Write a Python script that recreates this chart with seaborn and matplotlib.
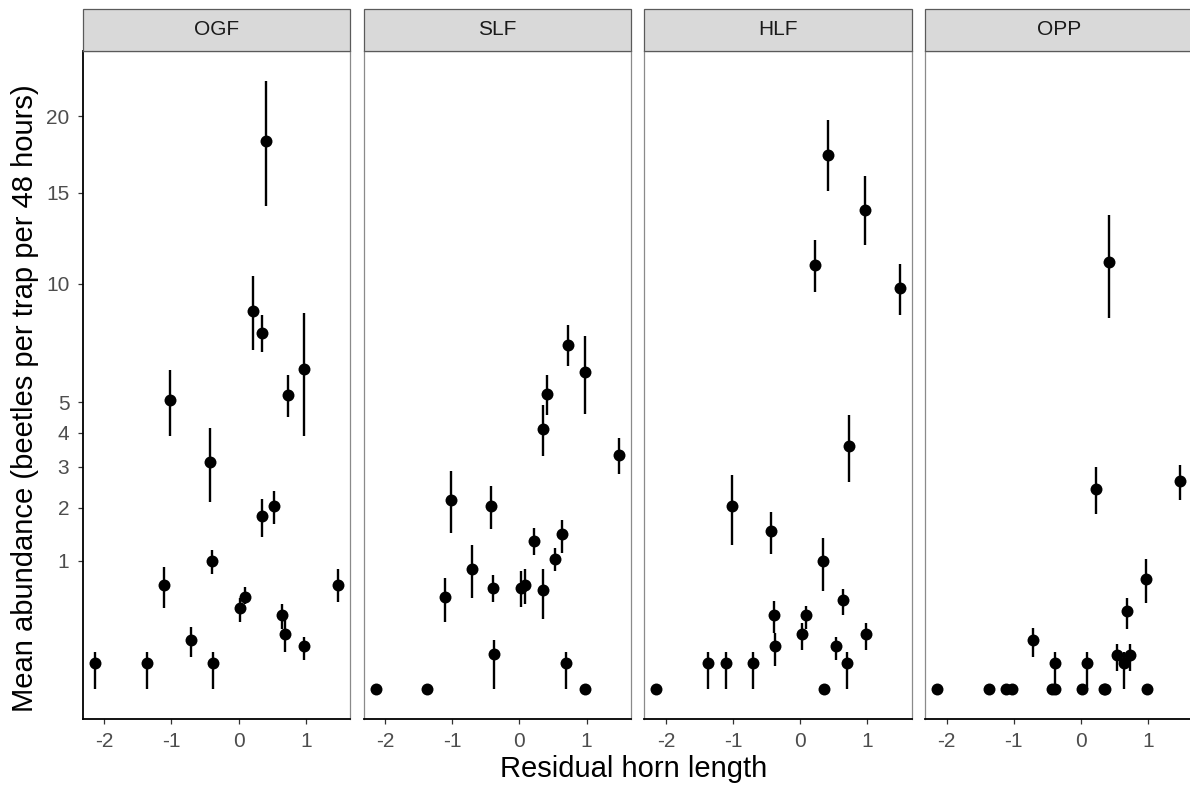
import numpy as np
import pandas as pd
import matplotlib
matplotlib.use("Agg")
import matplotlib.pyplot as plt
import seaborn as sns
from matplotlib.patches import Rectangle

# ---------------- data ----------------
habitats = ["OGF", "SLF", "HLF", "OPP"]

horn = [-2.14, -1.37, -1.11, -1.02, -0.71, -0.43, -0.39, -0.38, 0.02, 0.09, 0.22,
        0.345, 0.355, 0.415, 0.53, 0.64, 0.69, 0.73, 0.97, 0.98, 1.48]

ogf_mean = [0.04, 0.04, 0.66, 5.07, 0.145, 3.14, 1.00, 0.04, 0.40, 0.51, 8.70,
            7.70, 1.81, 18.3, 2.03, 0.33, 0.18, 5.27, 6.24, 0.11, 0.66]
ogf_lo = [0.0, 0.0, 0.40, 3.90, 0.06, 2.12, 0.80, 0.0, 0.27, 0.44, 7.00,
          6.90, 1.41, 14.2, 1.66, 0.22, 0.08, 4.50, 3.90, 0.05, 0.46]
ogf_hi = [0.08, 0.08, 0.91, 6.20, 0.23, 4.14, 1.17, 0.08, 0.50, 0.63, 10.4,
          8.50, 2.19, 22.5, 2.38, 0.44, 0.29, 6.00, 8.60, 0.16, 0.87]

slf_mean = [0.0, 0.0, 0.51, 2.17, 0.88, 2.03, 0.62, 0.073, 0.62, 0.66, 1.33,
            4.10, 0.59, 5.28, 1.03, 1.45, 0.04, 7.20, 6.13, 0.0, 3.33]
slf_lo = [0.0, 0.0, 0.27, 1.47, 0.50, 1.55, 0.46, 0.0, 0.41, 0.44, 1.09,
          3.30, 0.30, 4.56, 0.84, 1.12, 0.0, 6.35, 4.60, 0.0, 2.81]
slf_hi = [0.0, 0.0, 0.75, 2.89, 1.26, 2.50, 0.79, 0.145, 0.84, 0.88, 1.57,
          4.90, 0.88, 5.99, 1.21, 1.73, 0.08, 8.05, 7.60, 0.0, 3.83]

hlf_mean = [0.0, 0.04, 0.04, 2.03, 0.04, 1.51, 0.33, 0.11, 0.18, 0.33, 10.95,
            1.00, 0.0, 17.4, 0.11, 0.48, 0.04, 3.60, 14.0, 0.18, 9.80]
hlf_lo = [0.0, 0.0, 0.0, 1.26, 0.0, 1.10, 0.19, 0.03, 0.09, 0.22, 9.60,
          0.58, 0.0, 15.1, 0.05, 0.33, 0.0, 2.60, 12.0, 0.09, 8.50]
hlf_hi = [0.0, 0.08, 0.08, 2.78, 0.08, 1.91, 0.47, 0.19, 0.26, 0.42, 12.3,
          1.39, 0.0, 19.7, 0.16, 0.61, 0.08, 4.56, 16.0, 0.26, 11.0]

opp_mean = [0.0, 0.0, 0.0, 0.0, 0.145, 0.0, 0.04, 0.0, 0.0, 0.04, 2.43,
            0.0, 0.0, 11.1, 0.07, 0.04, 0.37, 0.07, 0.73, 0.0, 2.62]
opp_lo = [0.0, 0.0, 0.0, 0.0, 0.06, 0.0, 0.0, 0.0, 0.0, 0.0, 1.86,
          0.0, 0.0, 8.40, 0.02, 0.0, 0.22, 0.02, 0.45, 0.0, 2.17]
opp_hi = [0.0, 0.0, 0.0, 0.0, 0.225, 0.0, 0.08, 0.0, 0.0, 0.08, 3.01,
          0.0, 0.0, 13.7, 0.12, 0.08, 0.50, 0.12, 1.02, 0.0, 3.05]

y_ticks = [1, 2, 3, 4, 5, 10, 15, 20]
x_ticks = [-2, -1, 0, 1]

series = {
    "OGF": (ogf_mean, ogf_lo, ogf_hi),
    "SLF": (slf_mean, slf_lo, slf_hi),
    "HLF": (hlf_mean, hlf_lo, hlf_hi),
    "OPP": (opp_mean, opp_lo, opp_hi),
}
rows = []
for hab in habitats:
    m, lo, hi = series[hab]
    for x, a, b, c in zip(horn, m, lo, hi):
        rows.append({"habitat": hab, "horn": x, "mean": a, "lo": b, "hi": c})
df = pd.DataFrame(rows)

# ---------------- style ----------------
sns.set_theme(style="white")
plt.rcParams["font.family"] = ["Liberation Sans", "DejaVu Sans"]
plt.rcParams["axes.unicode_minus"] = False

W, H = 1190, 787
g = sns.FacetGrid(df, col="habitat", col_order=habitats, sharex=True, sharey=True,
                  height=7, aspect=0.4)


def draw(data, **kw):
    ax = plt.gca()
    ax.errorbar(data["horn"], data["mean"],
                yerr=[data["mean"] - data["lo"], data["hi"] - data["mean"]],
                fmt="none", ecolor="black", elinewidth=1.7, capsize=0, zorder=2)
    sns.scatterplot(data=data, x="horn", y="mean", color="black", s=74,
                    edgecolor="black", linewidth=0, ax=ax, zorder=3)


g.map_dataframe(draw)
g.set_titles("")
g.set_axis_labels("", "")

fig = g.figure
fig.set_size_inches(W / 100, H / 100)
fig.set_dpi(100)

fwd = lambda v: np.sign(v) * np.sqrt(np.abs(v))
inv = lambda s: np.sign(s) * s ** 2

panel_left0 = 82.7
panel_step = 280.8
panel_w = 267.5
panel_top = 51
panel_bot = 719
strip_top = 8.5
strip_h = (panel_top - strip_top) / (panel_bot - panel_top)

for i, (ax, hab) in enumerate(zip(g.axes.flat, habitats)):
    ax.set_position([(panel_left0 + i * panel_step) / W, 1 - panel_bot / H,
                     panel_w / W, (panel_bot - panel_top) / H])
    ax.set_yscale("function", functions=(fwd, inv))
    ax.set_ylim(-0.0562, 24.8)
    ax.set_xlim(-2.321, 1.661)
    ax.set_xticks(x_ticks)
    ax.set_xticklabels([str(t) for t in x_ticks])
    ax.set_yticks(y_ticks)
    ax.set_yticklabels([str(t) for t in y_ticks])
    ax.minorticks_off()
    ax.tick_params(axis="both", which="major", length=3.6, width=0.9,
                   color="#333333", labelcolor="#4D4D4D", labelsize=15)
    ax.tick_params(axis="x", bottom=True, pad=6)
    if i == 0:
        ax.tick_params(axis="y", left=True, labelleft=True, pad=6)
    else:
        ax.tick_params(axis="y", left=False, labelleft=False)
    for side in ["top", "right", "left"]:
        ax.spines[side].set_visible(True)
        ax.spines[side].set_color("#8A8A8A")
        ax.spines[side].set_linewidth(0.9)
    ax.spines["bottom"].set_color("black")
    ax.spines["bottom"].set_linewidth(1.3)
    if i == 0:
        ax.spines["left"].set_color("black")
        ax.spines["left"].set_linewidth(1.3)
    ax.set_xlabel("")
    ax.set_ylabel("")
    # facet strip
    ax.add_patch(Rectangle((0, 1), 1, strip_h, transform=ax.transAxes,
                           facecolor="#D9D9D9", edgecolor="#5A5A5A",
                           linewidth=0.9, clip_on=False, zorder=5))
    ax.text(0.5, 1 + strip_h / 2, hab, transform=ax.transAxes, ha="center",
            va="center", fontsize=15, color="#1A1A1A", zorder=6)

fig.text(25 / W, 1 - 398 / H, "Mean abundance (beetles per trap per 48 hours)",
         rotation=90, ha="center", va="center", fontsize=21, color="black")
fig.text(634 / W, 1 - 769 / H, "Residual horn length", ha="center",
         va="center", fontsize=21, color="black")

fig.savefig("out.png", dpi=100)
